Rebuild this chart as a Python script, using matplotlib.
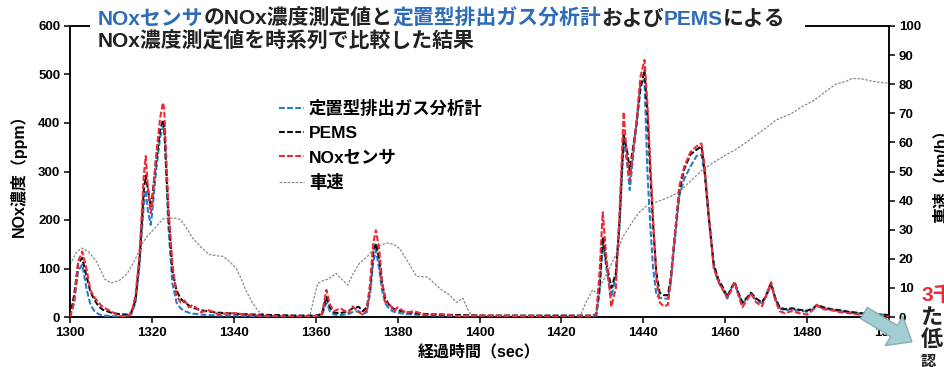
import matplotlib
matplotlib.use('Agg')
import matplotlib.pyplot as plt
from matplotlib.patches import Rectangle, FancyArrow
from matplotlib.transforms import IdentityTransform

plt.rcParams['font.family'] = ['Liberation Sans', 'Noto Sans CJK JP']

# --- data ---
t_nox = [1300, 1301, 1302, 1303, 1304, 1305, 1306, 1307, 1308, 1310, 1312, 1314, 1315, 1316, 1317,
         1318, 1318.5, 1319, 1319.7, 1320, 1321, 1322, 1322.7, 1323, 1324, 1325, 1326, 1327, 1328,
         1329, 1330, 1332, 1334, 1336, 1340, 1345, 1350, 1355, 1360, 1361.5, 1362.6, 1363.5, 1364.5,
         1366, 1368, 1369, 1370.5, 1371.5, 1372.5, 1373.3, 1374, 1374.7, 1375.5, 1376.2, 1377, 1378,
         1379, 1380, 1382, 1384, 1387, 1390, 1395, 1400, 1410, 1420, 1427, 1428.5, 1429.3, 1430.1,
         1431, 1432.2, 1433.3, 1434.2, 1435.2, 1436, 1436.7, 1437.5, 1438.3, 1439.3, 1440.3, 1441,
         1441.7, 1442.4, 1443.2, 1444, 1445, 1446, 1446.7, 1447.6, 1448.8, 1450, 1451.5, 1453, 1454.2,
         1455, 1456, 1457.2, 1458.3, 1459.5, 1460.5, 1461.5, 1462.3, 1463.2, 1464.2, 1465.3, 1466.3,
         1467.6, 1469, 1470, 1471.2, 1472.2, 1473.3, 1474.5, 1476.3, 1478, 1480, 1481.5, 1482.4, 1484,
         1486, 1488, 1490, 1493, 1496, 1498, 1500]

pems = [0, 45, 110, 122, 85, 52, 35, 22, 15, 9, 6, 5, 10, 35, 120,
        260, 292, 265, 228, 240, 320, 385, 406, 395, 220, 95, 55, 38, 30,
        24, 19, 14, 11, 9, 7, 5, 4, 3, 3, 6, 41, 20, 9,
        8, 12, 18, 21, 12, 20, 60, 130, 152, 120, 70, 38, 24,
        17, 14, 10, 8, 6, 5, 4, 3, 3, 3, 3, 5, 60, 165,
        110, 60, 90, 200, 375, 345, 303, 350, 395, 470, 509, 420,
        300, 190, 90, 50, 45, 45, 80, 160, 260, 305, 335, 345, 352,
        300, 206, 110, 78, 60, 42, 60, 72, 50, 30, 40, 50,
        38, 30, 45, 70, 40, 20, 16, 18, 15, 13, 18, 25, 20,
        16, 14, 11, 8, 6, 5, 4]

analyzer = [0, 30, 95, 108, 60, 25, 12, 6, 3, 2, 1, 1, 6, 30, 110,
            230, 262, 220, 190, 210, 300, 370, 392, 395, 190, 70, 30, 18, 12,
            9, 7, 5, 4, 3, 3, 2, 2, 2, 2, 4, 29, 12, 5,
            4, 6, 10, 12, 6, 10, 50, 110, 138, 100, 55, 28, 16,
            11, 9, 6, 5, 4, 3, 3, 2, 2, 2, 2, 3, 50, 158,
            100, 41, 85, 185, 365, 320, 262, 330, 395, 482, 490, 300,
            190, 100, 45, 40, 38, 38, 70, 150, 250, 285, 310, 332, 335,
            295, 200, 105, 72, 55, 38, 58, 70, 48, 28, 38, 48,
            35, 28, 42, 66, 38, 18, 14, 16, 13, 11, 16, 22, 18,
            15, 12, 10, 7, 5, 5, 4]

sensor = [0, 30, 115, 135, 100, 55, 40, 30, 20, 12, 2, 2, 8, 45, 130,
          290, 332, 270, 214, 230, 330, 410, 442, 430, 230, 110, 45, 30, 34,
          20, 25, 10, 14, 6, 8, 3, 2, 1, 2, 5, 56, 25, 12,
          18, 8, 22, 10, 5, 15, 70, 150, 179, 140, 75, 30, 28,
          12, 20, 9, 12, 4, 6, 2, 3, 2, 1, 2, 4, 90, 216,
          120, 21, 60, 215, 423, 330, 282, 340, 400, 495, 530, 440,
          320, 200, 80, 30, 22, 25, 75, 160, 270, 310, 340, 352, 358,
          310, 210, 100, 75, 55, 40, 55, 72, 45, 20, 35, 48,
          30, 22, 45, 72, 35, 12, 8, 12, 8, 5, 15, 25, 16,
          14, 10, 8, 5, 2, 1, 1]

t_speed = [1300, 1301.5, 1302.8, 1304.5, 1306.5, 1308.5, 1310, 1312, 1314, 1316, 1317.5, 1319, 1321,
           1322.7, 1324, 1325.5, 1327, 1328.5, 1330, 1332, 1334, 1336, 1337.5, 1339, 1340.7, 1342,
           1343, 1344.5, 1346, 1348, 1350, 1355, 1358.5, 1359.5, 1360.5, 1361.7, 1363, 1365, 1366,
           1367.8, 1369, 1370.7, 1372.4, 1374, 1375.5, 1377.3, 1379, 1380.5, 1382.5, 1384.6, 1387.3,
           1389, 1391, 1392.7, 1394.4, 1395.9, 1397, 1398, 1400, 1410, 1420, 1424.5, 1426, 1427.6,
           1428.8, 1430, 1431.5, 1433.5, 1435, 1437, 1439, 1441.5, 1443.2, 1446, 1448.8, 1451, 1454.4,
           1457, 1460.2, 1462.5, 1465.1, 1468, 1470, 1472.4, 1476.3, 1479, 1481.2, 1483, 1485, 1487,
           1489.5, 1491, 1493.4, 1496, 1499.3, 1500]
speed = [18, 22, 23.7, 22.5, 19, 13, 11.7, 12.5, 15, 20, 25, 28, 31,
         33.7, 34, 34, 33.5, 30.5, 27, 24, 21.5, 21, 20.8, 19, 16.5, 12.5,
         9, 5, 2, 0.3, 0, 0, 0, 6, 11.5, 12.5, 13, 15, 13.5,
         11, 14.5, 18.5, 20.5, 23, 24.5, 25.4, 25, 23.5, 19, 14, 13.7,
         11.5, 9, 7.6, 5, 6.5, 3, 0.5, 0, 0, 0, 0, 5, 9.3,
         8, 12, 16, 22, 27.5, 32, 36, 39, 39.5, 41, 43, 46, 50.5,
         53, 55.7, 57.5, 60, 63, 65, 67.7, 70, 72.5, 74, 75.8, 78, 80,
         81, 82, 81.8, 81, 80.4, 80.3]

labels = ['定置型排出ガス分析計', 'PEMS', 'NOxセンサ', '車速']
x_ticks = list(range(1300, 1501, 20))
y_ticks = list(range(0, 601, 100))
y2_ticks = list(range(0, 101, 10))

blue = '#2b7cc8'
red = '#ee2a35'
title_blue = '#2f6cb8'

fig = plt.figure(figsize=(9.44, 3.67), dpi=100)
ax = fig.add_axes([70 / 944, 50 / 367, 819 / 944, 291 / 367])
ax2 = ax.twinx()

l_spd, = ax2.plot(t_speed, speed, color='#8a8a8a', lw=0.9, ls=(0, (2, 1.2)))
l_blue, = ax.plot(t_nox, analyzer, color=blue, lw=1.5, ls=(0, (2.8, 1.1)), zorder=3)
l_black, = ax.plot(t_nox, pems, color='#111111', lw=1.5, ls=(0, (2.8, 1.1)), zorder=4)
l_red, = ax.plot(t_nox, sensor, color=red, lw=1.5, ls=(0, (2.8, 1.1)), zorder=5)
ax.set_zorder(ax2.get_zorder() + 1)
ax.patch.set_visible(False)

ax.set_xlim(1300, 1500)
ax.set_ylim(0, 600)
ax2.set_ylim(0, 100)
ax.set_xticks(x_ticks)
ax.set_yticks(y_ticks)
ax2.set_yticks(y2_ticks)
for a in (ax, ax2):
    a.tick_params(direction='out', length=4, width=1.1, labelsize=9.5, pad=3)
    for sp in a.spines.values():
        sp.set_linewidth(1.1)
for lab in ax.get_xticklabels() + ax.get_yticklabels() + ax2.get_yticklabels():
    lab.set_fontweight('bold')

ax.set_xlabel('経過時間（sec）', fontsize=11.5, fontweight='bold', labelpad=4)
ax.set_ylabel('NOx濃度（ppm）', fontsize=11.5, fontweight='bold', labelpad=8)
fig.text(941 / 944, 1 - 172 / 367, '車速（km/h）', rotation=90, fontsize=11.5,
         fontweight='bold', ha='center', va='center')

ax.legend([l_blue, l_black, l_red, l_spd], labels, loc='upper left',
          bbox_to_anchor=(270 / 944, 1 - 91 / 367), bbox_transform=fig.transFigure,
          frameon=False, prop={'weight': 'bold', 'size': 12.5},
          handlelength=1.45, handletextpad=0.3, labelspacing=0.52, borderpad=0)

# white box behind title (hides the top spine)
fig.add_artist(Rectangle((90, 367 - 52), 715, 50, transform=IdentityTransform(),
                         facecolor='white', edgecolor='none', zorder=2))

line1 = [('NOxセンサ', title_blue), ('のNOx濃度測定値と', '#222222'),
         ('定置型排出ガス分析計', title_blue), ('および', '#222222'),
         ('PEMS', title_blue), ('による', '#222222')]
prev = fig.text(98 / 944, 1 - 29 / 367, line1[0][0], color=line1[0][1], fontsize=15,
                fontweight='bold', ha='left', va='bottom', zorder=3)
for s, c in line1[1:]:
    prev = fig.add_artist(matplotlib.text.Annotation(
        s, xy=(1, 0), xycoords=prev, ha='left', va='bottom', color=c,
        fontsize=15, fontweight='bold', annotation_clip=False, zorder=3))
fig.text(98 / 944, 1 - 52 / 367, 'NOx濃度測定値を時系列で比較した結果', color='#222222',
         fontsize=15, fontweight='bold', ha='left', va='bottom', zorder=3)

# clipped side note and arrow at the right edge
fig.text(921 / 944, 1 - 295 / 367, '3千', color=red, fontsize=15, fontweight='bold',
         ha='left', va='center', zorder=3)
fig.text(921 / 944, 1 - 318 / 367, 'た', color='#222222', fontsize=16, fontweight='bold',
         ha='left', va='center', zorder=3)
fig.text(921 / 944, 1 - 341 / 367, '低', color='#222222', fontsize=16, fontweight='bold',
         ha='left', va='center', zorder=3)
fig.text(921 / 944, 1 - 362 / 367, '認', color='#222222', fontsize=11, fontweight='bold',
         ha='left', va='center', zorder=3)
fig.add_artist(FancyArrow(864, 367 - 313, 30, -18, width=13, head_width=34, head_length=21,
                          length_includes_head=False, transform=IdentityTransform(),
                          facecolor='#a3cdd2', edgecolor='#86aeb3', lw=1, zorder=4))

fig.savefig('out.png', dpi=100)
